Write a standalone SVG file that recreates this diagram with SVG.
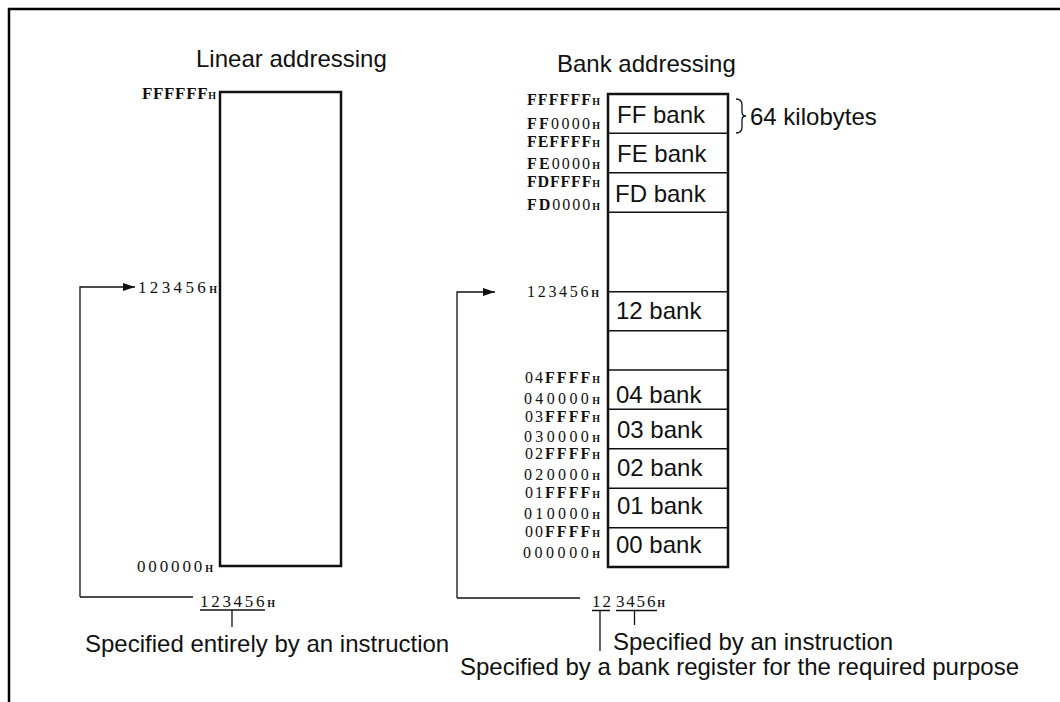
<svg xmlns="http://www.w3.org/2000/svg" width="1060" height="702" viewBox="0 0 1060 702">
<style>
.t{font-family:"Liberation Sans",Arial,sans-serif;font-size:24px;fill:#111}
.a{font-family:"Liberation Serif","Times New Roman",serif;font-size:16px;fill:#111}
.al{font-size:17px}
.b{font-weight:bold}
.h{font-size:10px;font-weight:bold}
.ln{stroke:#111;fill:none;stroke-width:1.3}
.box{stroke:#111;fill:#fff;stroke-width:2.5}
.div{stroke:#111;stroke-width:1.5}
</style>
<defs>
<marker id="ah" markerUnits="userSpaceOnUse" markerWidth="13" markerHeight="9" refX="12" refY="4" orient="auto">
<path d="M0,0 L12,4 L0,8 z" fill="#111"/>
</marker>
</defs>
<rect width="1060" height="702" fill="#fff"/>
<path d="M8,9 H1060 M9,8 V702" stroke="#000" stroke-width="2.5" fill="none"/>

<g id="linear">
<text class="t" x="196" y="67">Linear addressing</text>
<rect class="box" x="220" y="92" width="121" height="474"/>
<text class="a al" x="216" y="99" text-anchor="end" textLength="74" lengthAdjust="spacing"><tspan class="b">FFFFFF</tspan><tspan class="h">H</tspan></text>
<text class="a al" x="217" y="293" text-anchor="end" textLength="79" lengthAdjust="spacing">123456<tspan class="h">H</tspan></text>
<text class="a al" x="213" y="572" text-anchor="end" textLength="76" lengthAdjust="spacing">000000<tspan class="h">H</tspan></text>
<text class="a al" x="200" y="607" textLength="75" lengthAdjust="spacing">123456<tspan class="h">H</tspan></text>
<text class="t" x="85" y="652">Specified entirely by an instruction</text>
</g>

<g id="bank">
<text class="t" x="557" y="72">Bank addressing</text>
<rect class="box" x="608" y="94" width="120" height="473" stroke-width="2.2"/>
<g class="div">
<line x1="608" y1="133.3" x2="728" y2="133.3"/>
<line x1="608" y1="172.7" x2="728" y2="172.7"/>
<line x1="608" y1="212.3" x2="728" y2="212.3"/>
<line x1="608" y1="291.7" x2="728" y2="291.7"/>
<line x1="608" y1="330.7" x2="728" y2="330.7"/>
<line x1="608" y1="370" x2="728" y2="370"/>
<line x1="608" y1="409.3" x2="728" y2="409.3"/>
<line x1="608" y1="448.7" x2="728" y2="448.7"/>
<line x1="608" y1="488.3" x2="728" y2="488.3"/>
<line x1="608" y1="527.7" x2="728" y2="527.7"/>
</g>
<text class="t" x="617" y="123">FF bank</text>
<text class="t" x="617" y="162">FE bank</text>
<text class="t" x="615" y="202">FD bank</text>
<text class="t" x="616" y="319">12 bank</text>
<text class="t" x="616" y="403">04 bank</text>
<text class="t" x="617" y="438">03 bank</text>
<text class="t" x="617" y="476">02 bank</text>
<text class="t" x="617" y="514">01 bank</text>
<text class="t" x="616" y="553">00 bank</text>
<path class="ln" d="M736,99 Q742,99 742,105 V112 Q742,116 746,116 Q742,116 742,120 V127 Q742,133 736,133"/>
<text class="t" x="750" y="125">64 kilobytes</text>

<text class="a" x="600" y="105" text-anchor="end" textLength="73" lengthAdjust="spacing"><tspan class="b">FFFFFF</tspan><tspan class="h">H</tspan></text>
<text class="a" x="600" y="129" text-anchor="end" textLength="73" lengthAdjust="spacing"><tspan class="b">FF</tspan>0000<tspan class="h">H</tspan></text>
<text class="a" x="600" y="147" text-anchor="end" textLength="73" lengthAdjust="spacing"><tspan class="b">FEFFFF</tspan><tspan class="h">H</tspan></text>
<text class="a" x="600" y="169" text-anchor="end" textLength="73" lengthAdjust="spacing"><tspan class="b">FE</tspan>0000<tspan class="h">H</tspan></text>
<text class="a" x="600" y="187" text-anchor="end" textLength="73" lengthAdjust="spacing"><tspan class="b">FDFFFF</tspan><tspan class="h">H</tspan></text>
<text class="a" x="600" y="210" text-anchor="end" textLength="73" lengthAdjust="spacing"><tspan class="b">FD</tspan>0000<tspan class="h">H</tspan></text>
<text class="a" x="599" y="297" text-anchor="end" textLength="72" lengthAdjust="spacing">123456<tspan class="h">H</tspan></text>
<text class="a" x="600" y="383" text-anchor="end" textLength="75" lengthAdjust="spacing">04<tspan class="b">FFFF</tspan><tspan class="h">H</tspan></text>
<text class="a" x="600" y="404" text-anchor="end" textLength="76" lengthAdjust="spacing">040000<tspan class="h">H</tspan></text>
<text class="a" x="600" y="422" text-anchor="end" textLength="75" lengthAdjust="spacing">03<tspan class="b">FFFF</tspan><tspan class="h">H</tspan></text>
<text class="a" x="600" y="442" text-anchor="end" textLength="76" lengthAdjust="spacing">030000<tspan class="h">H</tspan></text>
<text class="a" x="600" y="459" text-anchor="end" textLength="75" lengthAdjust="spacing">02<tspan class="b">FFFF</tspan><tspan class="h">H</tspan></text>
<text class="a" x="600" y="480" text-anchor="end" textLength="76" lengthAdjust="spacing">020000<tspan class="h">H</tspan></text>
<text class="a" x="600" y="498" text-anchor="end" textLength="75" lengthAdjust="spacing">01<tspan class="b">FFFF</tspan><tspan class="h">H</tspan></text>
<text class="a" x="600" y="519" text-anchor="end" textLength="76" lengthAdjust="spacing">010000<tspan class="h">H</tspan></text>
<text class="a" x="600" y="537" text-anchor="end" textLength="75" lengthAdjust="spacing">00<tspan class="b">FFFF</tspan><tspan class="h">H</tspan></text>
<text class="a" x="600" y="558" text-anchor="end" textLength="77" lengthAdjust="spacing">000000<tspan class="h">H</tspan></text>

<text class="a al" x="592" y="607" textLength="19" lengthAdjust="spacing">12</text>
<text class="a al" x="616" y="607" textLength="49" lengthAdjust="spacing">3456<tspan class="h">H</tspan></text>
<text class="t" x="613" y="650">Specified by an instruction</text>
<text class="t" x="460" y="675">Specified by a bank register for the required purpose</text>
</g>

<g id="connectors">
<path class="ln" d="M80,597 V287 H135" marker-end="url(#ah)"/>
<path class="ln" d="M80,597 H193"/>
<path class="ln" d="M200,610 H265 M232,610 V627"/>
<path class="ln" d="M457,598 V292 H495" marker-end="url(#ah)"/>
<path class="ln" d="M457,598 H580"/>
<path class="ln" d="M592,610.5 H610 M600,610.5 V651"/>
<path class="ln" d="M616,610.5 H657 M634.5,610.5 V625"/>
</g>
</svg>
